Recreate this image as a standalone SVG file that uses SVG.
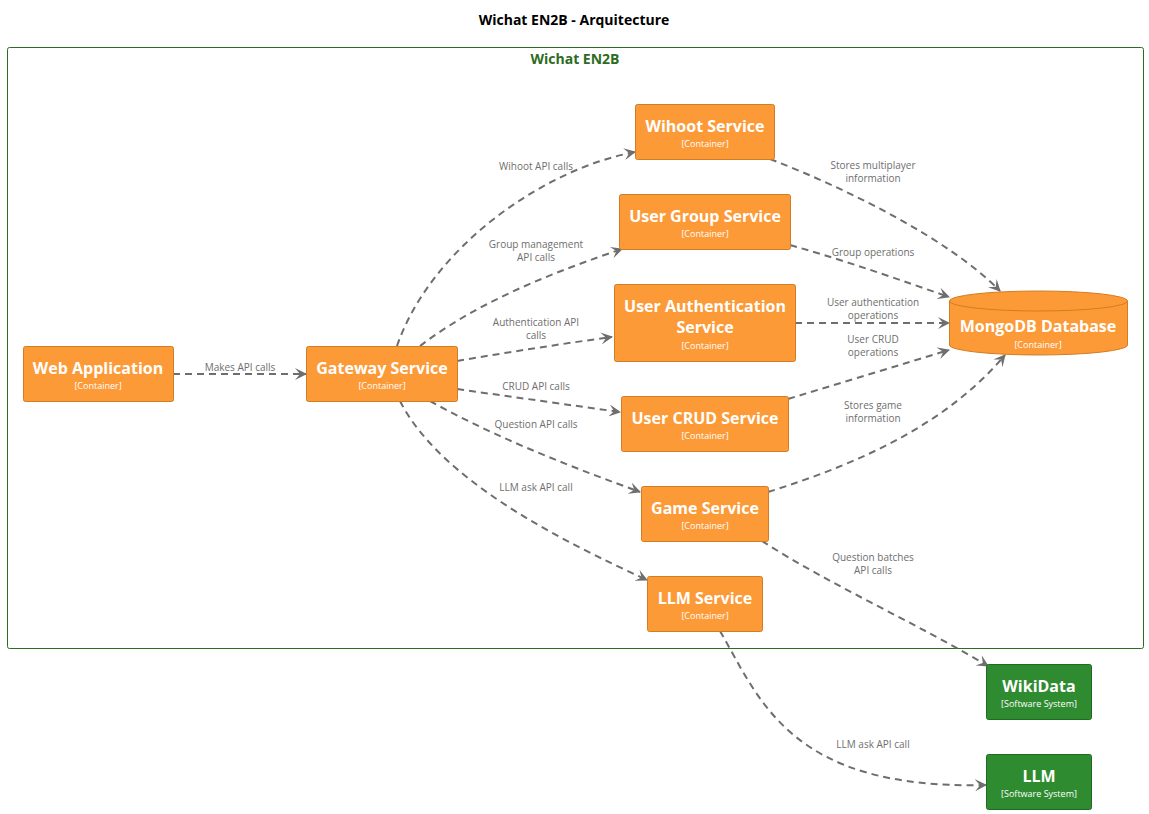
<svg xmlns="http://www.w3.org/2000/svg" width="1149" height="814" viewBox="0 0 1149 814">
<style>
text{font-family:"Open Sans","Noto Sans","DejaVu Sans",sans-serif;text-anchor:middle}
.c rect,.c path,.c ellipse{fill:#FD9A38;stroke:#D27D22;stroke-width:1}
.s rect{fill:#2F8B2F;stroke:#1E6A1E;stroke-width:1}
.n{fill:#fff;font-size:16px;font-weight:bold}
.t{fill:#fff;font-size:9px}
.e path{fill:none;stroke:#6E6E6E;stroke-width:2;stroke-dasharray:7,5;marker-end:url(#a)}
.l{fill:#6E6E6E;font-size:10px}
</style>
<defs><marker id="a" markerWidth="14" markerHeight="12" refX="11" refY="6" orient="auto" markerUnits="userSpaceOnUse"><path d="M0,0 L12,6 L0,12 L5,6 Z" fill="#6E6E6E"/></marker></defs>
<rect width="1149" height="814" fill="#fff"/>
<text x="574" y="25" style="font-size:14px;font-weight:bold" fill="#000">Wichat EN2B - Arquitecture</text>
<g id="boundary"><rect x="7.5" y="47.5" width="1136" height="601" rx="2" fill="none" stroke="#2E6B22"/>
<text x="575" y="64" style="font-size:14px;font-weight:bold" fill="#2E6B22">Wichat EN2B</text></g>
<g class="e" id="connectors">
<path d="M173,374 L306,374"/>
<path d="M397,346 C430,250 540,170 635,152"/>
<path d="M420,346 C480,300 560,270 622,249"/>
<path d="M457,361 C510,352 560,344 612,337"/>
<path d="M457,389 C520,398 570,405 620,412"/>
<path d="M430,401 C500,440 580,470 640,492"/>
<path d="M400,401 C440,480 560,540 647,580"/>
<path d="M770,159 C850,190 950,240 1000,291"/>
<path d="M790,245 C850,262 900,280 949,297"/>
<path d="M795,323 L949,323"/>
<path d="M788,399 C850,380 900,365 949,350"/>
<path d="M768,492 C870,460 950,420 1005,355"/>
<path d="M762,541 C830,585 920,625 988,666"/>
<path d="M720,631 C760,700 790,790 986,785"/>
<text class="l" x="240" y="371">Makes API calls</text>
<text class="l" x="536" y="170">Wihoot API calls</text>
<text class="l" x="536" y="248">Group management</text><text class="l" x="536" y="261">API calls</text>
<text class="l" x="536" y="326">Authentication API</text><text class="l" x="536" y="339">calls</text>
<text class="l" x="536" y="390">CRUD API calls</text>
<text class="l" x="536" y="428">Question API calls</text>
<text class="l" x="536" y="491">LLM ask API call</text>
<text class="l" x="873" y="169">Stores multiplayer</text><text class="l" x="873" y="182">information</text>
<text class="l" x="873" y="256">Group operations</text>
<text class="l" x="873" y="306">User authentication</text><text class="l" x="873" y="319">operations</text>
<text class="l" x="873" y="343">User CRUD</text><text class="l" x="873" y="356">operations</text>
<text class="l" x="873" y="409">Stores game</text><text class="l" x="873" y="422">information</text>
<text class="l" x="873" y="561">Question batches</text><text class="l" x="873" y="574">API calls</text>
<text class="l" x="873" y="748">LLM ask API call</text>
</g>
<g id="web" class="c"><rect x="23.5" y="346.5" width="150" height="55" rx="2"/><text class="n" x="98" y="374">Web Application</text><text class="t" x="98" y="389">[Container]</text></g>
<g id="gateway" class="c"><rect x="306.5" y="346.5" width="151" height="55" rx="2"/><text class="n" x="382" y="374">Gateway Service</text><text class="t" x="382" y="389">[Container]</text></g>
<g id="wihoot" class="c"><rect x="635.5" y="104.5" width="139" height="55" rx="2"/><text class="n" x="705" y="132">Wihoot Service</text><text class="t" x="705" y="147">[Container]</text></g>
<g id="usergroup" class="c"><rect x="619.5" y="194.5" width="171" height="55" rx="2"/><text class="n" x="705" y="222">User Group Service</text><text class="t" x="705" y="237">[Container]</text></g>
<g id="userauth" class="c"><rect x="614.5" y="284.5" width="181" height="77" rx="2"/><text class="n" x="705" y="312">User Authentication</text><text class="n" x="705" y="333">Service</text><text class="t" x="705" y="349">[Container]</text></g>
<g id="usercrud" class="c"><rect x="621.5" y="396.5" width="167" height="55" rx="2"/><text class="n" x="705" y="424">User CRUD Service</text><text class="t" x="705" y="439">[Container]</text></g>
<g id="game" class="c"><rect x="641.5" y="486.5" width="127" height="55" rx="2"/><text class="n" x="705" y="514">Game Service</text><text class="t" x="705" y="529">[Container]</text></g>
<g id="llmservice" class="c"><rect x="647.5" y="576.5" width="115" height="55" rx="2"/><text class="n" x="705" y="604">LLM Service</text><text class="t" x="705" y="619">[Container]</text></g>
<g id="mongo" class="c"><path d="M949.5,301 A89,10 0 0 1 1127.5,301 L1127.5,345 A89,10 0 0 1 949.5,345 Z"/><path d="M949.5,301 A89,10 0 0 0 1127.5,301" fill="none"/><text class="n" x="1038" y="332">MongoDB Database</text><text class="t" x="1038" y="348">[Container]</text></g>
<g id="wikidata" class="s"><rect x="986.5" y="664.5" width="105" height="55" rx="2"/><text class="n" x="1039" y="692">WikiData</text><text class="t" x="1039" y="707">[Software System]</text></g>
<g id="llm" class="s"><rect x="986.5" y="754.5" width="105" height="55" rx="2"/><text class="n" x="1039" y="782">LLM</text><text class="t" x="1039" y="797">[Software System]</text></g>
</svg>
